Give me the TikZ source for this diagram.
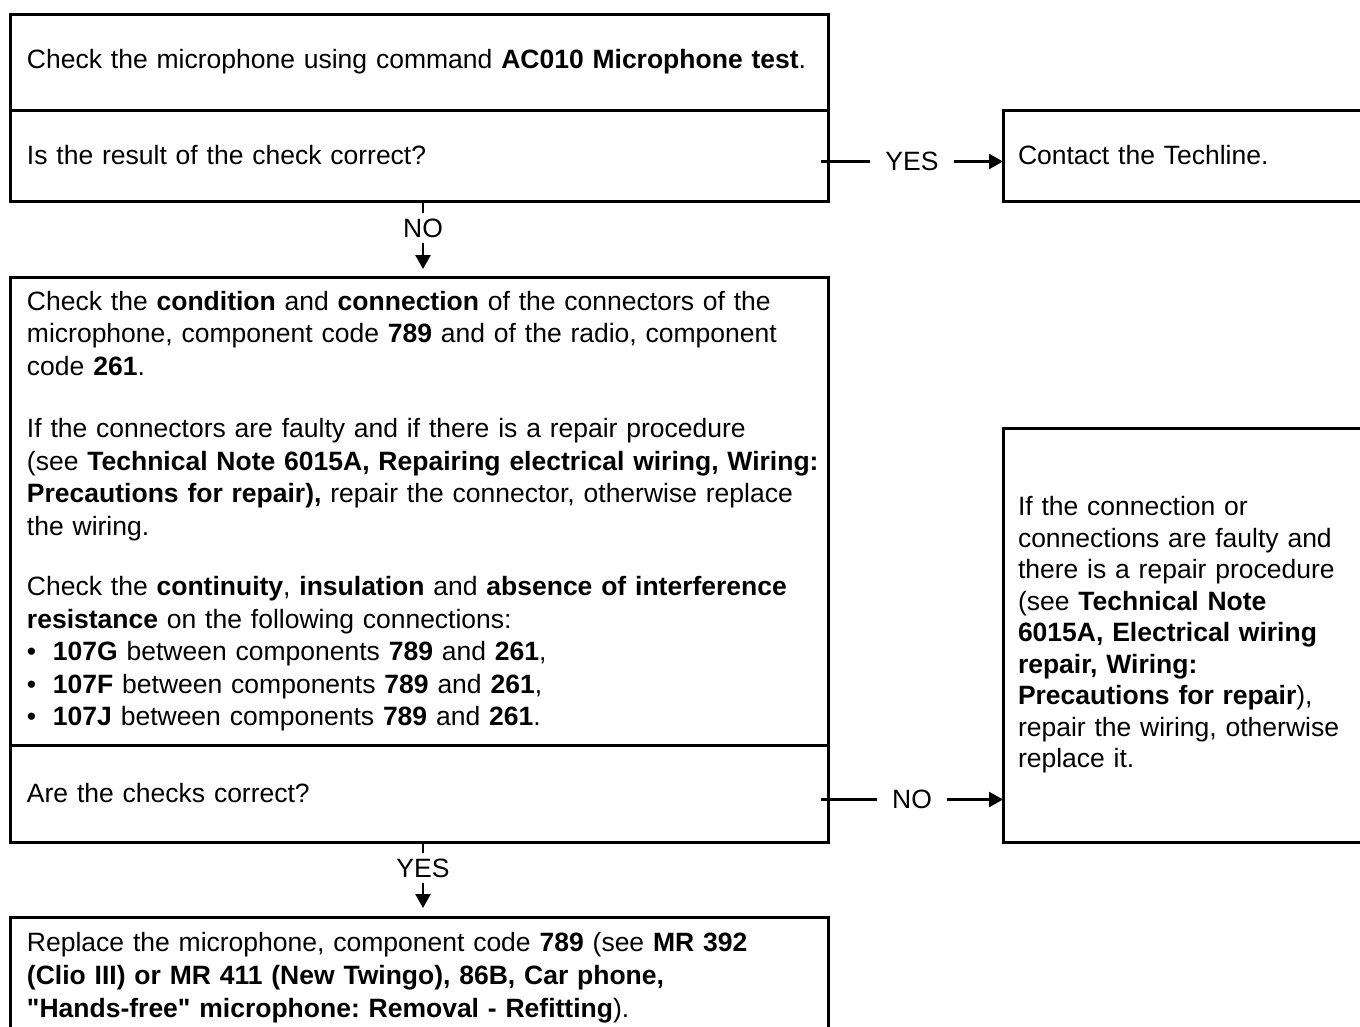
\documentclass[tikz,border=0pt]{standalone}
\usepackage{fontspec}
\newfontfamily\arial{Liberation Sans}
\usetikzlibrary{arrows.meta}
\frenchspacing
\begin{document}
\begin{tikzpicture}[x=1pt,y=-1pt,
  box/.style={draw, line width=3pt, rectangle, outer sep=0pt, inner xsep=17pt, inner ysep=0pt,
    align=left, anchor=north west, font=\arial\fontsize{26.5}{32.5}\selectfont},
  rbox/.style={box, inner xsep=15pt, minimum width=367pt, text width=337pt},
  lbox/.style={box, minimum width=818pt, text width=784pt},
  conn/.style={line width=2.5pt, -{Triangle[length=14pt,width=15pt]}},
  lbl/.style={fill=white, inner xsep=15pt, inner ysep=6pt, font=\arial\fontsize{26.5}{32}\selectfont}]
\useasboundingbox (0,0) rectangle (1360,1026);

\node[lbox, minimum height=96pt] (a1) at (10,14)
  {Check the microphone using command \textbf{AC010 Microphone test}.};
\node[lbox, minimum height=91pt] (a2) at (10,110)
  {Is the result of the check correct?};
\node[rbox, minimum height=91pt] (tech) at (1003,110)
  {Contact the Techline.};

\node[lbox, minimum height=468pt] (b1) at (10,277)
  {Check the \textbf{condition} and \textbf{connection} of the connectors of the\\
   microphone, component code \textbf{789} and of the radio, component\\
   code \textbf{261}.\\[30pt]
   If the connectors are faulty and if there is a repair procedure\\
   \mbox{(see \textbf{Technical Note 6015A, Repairing electrical wiring, Wiring:}}\\
   \mbox{\textbf{Precautions for repair),} repair the connector, otherwise replace}\\
   the wiring.\\[28pt]
   \mbox{Check the \textbf{continuity}, \textbf{insulation} and \textbf{absence of interference}}\\
   \textbf{resistance} on the following connections:\\
   \makebox[26pt][l]{•}\textbf{107G} between components \textbf{789} and \textbf{261},\\
   \makebox[26pt][l]{•}\textbf{107F} between components \textbf{789} and \textbf{261},\\
   \makebox[26pt][l]{•}\textbf{107J} between components \textbf{789} and \textbf{261}.};
\node[lbox, minimum height=97pt] (b2) at (10,745)
  {Are the checks correct?};
\node[rbox, minimum height=414pt, font=\arial\fontsize{26.5}{31.5}\selectfont] (r) at (1003,428)
  {If the connection or\\
   connections are faulty and\\
   there is a repair procedure\\
   (see \textbf{Technical Note}\\
   \textbf{6015A, Electrical wiring}\\
   \textbf{repair, Wiring:}\\
   \textbf{Precautions for repair}),\\
   repair the wiring, otherwise\\
   replace it.};

\node[lbox, minimum height=122pt, font=\arial\fontsize{26.5}{33}\selectfont] (c) at (10,917)
  {Replace the microphone, component code \textbf{789} (see \textbf{MR 392}\\
   \textbf{(Clio III) or MR 411 (New Twingo), 86B, Car phone,}\\
   \textbf{"Hands-free" microphone: Removal - Refitting}).};

\draw[conn] ([xshift=-7pt,yshift=-6pt]a2.east) -- node[lbl]{YES} ([yshift=-6pt]a2.east -| tech.west);
\draw[conn, shorten >=8pt] ([xshift=4pt]a2.south) -- node[lbl, pos=0.355]{NO} ([xshift=4pt]b1.north);
\draw[conn] ([xshift=-7pt,yshift=-6pt]b2.east) -- node[lbl]{NO} ([yshift=-6pt]b2.east -| r.west);
\draw[conn, shorten >=9pt] ([xshift=4pt]b2.south) -- node[lbl, pos=0.347]{YES} ([xshift=4pt]c.north);
\end{tikzpicture}
\end{document}
